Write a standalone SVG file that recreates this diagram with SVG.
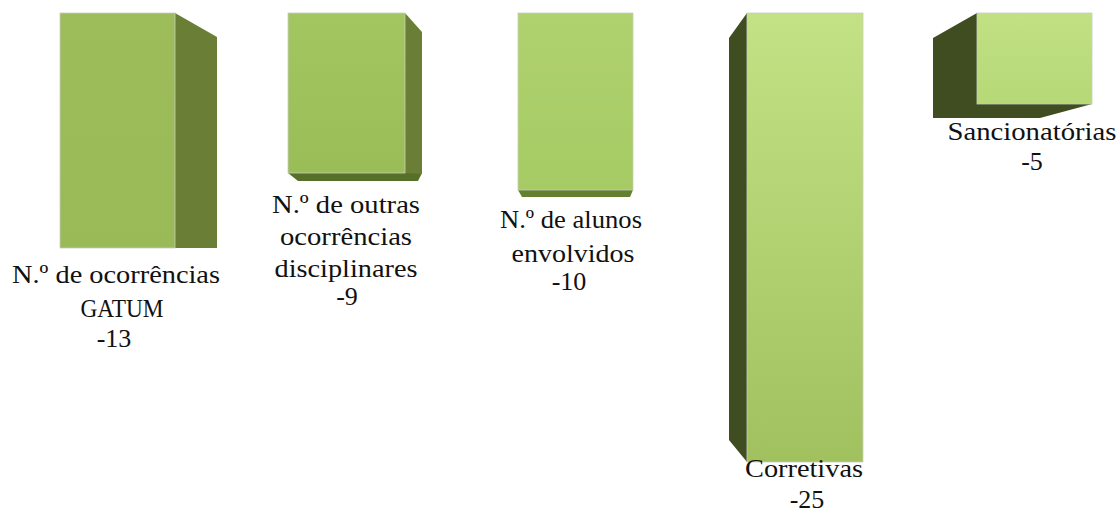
<svg xmlns="http://www.w3.org/2000/svg" width="1120" height="516" viewBox="0 0 1120 516">
<defs>
<linearGradient id="g1" x1="0" y1="0" x2="0" y2="1"><stop offset="0" stop-color="#9dbd5b"/><stop offset="1" stop-color="#9aba57"/></linearGradient>
<linearGradient id="g2" x1="0" y1="0" x2="0" y2="1"><stop offset="0" stop-color="#a3c660"/><stop offset="1" stop-color="#9bbd58"/></linearGradient>
<linearGradient id="g3" x1="0" y1="0" x2="0" y2="1"><stop offset="0" stop-color="#afd26e"/><stop offset="1" stop-color="#a6ca64"/></linearGradient>
<linearGradient id="g4" x1="0" y1="0" x2="0" y2="1"><stop offset="0" stop-color="#c3e285"/><stop offset="1" stop-color="#a1c05e"/></linearGradient>
<linearGradient id="g5" x1="0" y1="0" x2="0" y2="1"><stop offset="0" stop-color="#c1e183"/><stop offset="1" stop-color="#b6d877"/></linearGradient>
</defs>
<style>
.front{stroke:#c9cdc0;stroke-width:0.8}
.sideR{fill:#6a7f35}
.dark{fill:#3f4d21}
.bot{fill:#56702a}
.lbl{font-size:26px;fill:#111;text-anchor:middle}
</style>
<rect width="1120" height="516" fill="#ffffff"/>
<g font-family="'Liberation Serif', 'DejaVu Serif', serif">
<g id="node-gatum">
<polygon class="sideR" points="175,13 217,37 217,248 175,248"/>
<rect class="front" x="60" y="13" width="115" height="235" fill="url(#g1)"/>
<text class="lbl" x="116" y="283" textLength="208" lengthAdjust="spacingAndGlyphs">N.º de ocorrências</text>
<text class="lbl" x="122" y="317" textLength="83" lengthAdjust="spacingAndGlyphs">GATUM</text>
<text class="lbl" x="114" y="347">-13</text>
</g>
<g id="node-outras">
<polygon class="bot" points="288,173 405,173 422,173 418,181 298,181"/>
<polygon class="sideR" points="405,13 422,32 422,174 405,173"/>
<rect class="front" x="288" y="13" width="117" height="160" fill="url(#g2)"/>
<text class="lbl" x="346" y="213" textLength="148" lengthAdjust="spacingAndGlyphs">N.º de outras</text>
<text class="lbl" x="346" y="245" textLength="132" lengthAdjust="spacingAndGlyphs">ocorrências</text>
<text class="lbl" x="346" y="277" textLength="143" lengthAdjust="spacingAndGlyphs">disciplinares</text>
<text class="lbl" x="347" y="305">-9</text>
</g>
<g id="node-alunos">
<polygon class="bot" points="518,190 633,190 630,197 522,197" style="fill:#62802f"/>
<rect class="front" x="518" y="13" width="115" height="177" fill="url(#g3)"/>
<text class="lbl" x="571" y="228" textLength="142" lengthAdjust="spacingAndGlyphs">N.º de alunos</text>
<text class="lbl" x="573" y="262" textLength="123" lengthAdjust="spacingAndGlyphs">envolvidos</text>
<text class="lbl" x="569" y="290">-10</text>
</g>
<g id="node-corretivas">
<polygon class="dark" points="747,13 729,38 729,440 747,462"/>
<rect class="front" x="747" y="13" width="116" height="449" fill="url(#g4)"/>
<text class="lbl" x="804" y="477" textLength="118" lengthAdjust="spacingAndGlyphs">Corretivas</text>
<text class="lbl" x="807" y="508">-25</text>
</g>
<g id="node-sancionatorias">
<polygon class="dark" points="977,13 933,38 933,118 1040,118 1092,104 977,104"/>
<rect class="front" x="977" y="13" width="115" height="91" fill="url(#g5)"/>
<text class="lbl" x="1032" y="140" textLength="169" lengthAdjust="spacingAndGlyphs">Sancionatórias</text>
<text class="lbl" x="1032" y="170">-5</text>
</g>
</g>
<g id="connectors"></g>
</svg>
